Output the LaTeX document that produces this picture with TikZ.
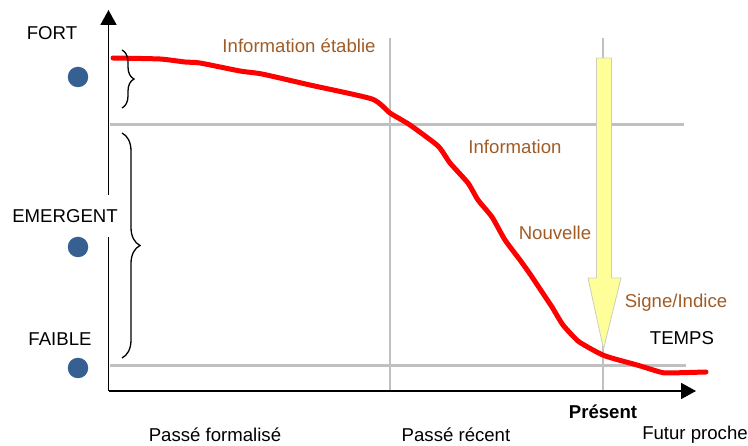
\documentclass[tikz,border=0pt]{standalone}
\usepackage{fontspec}
\setmainfont{Liberation Sans}
\usetikzlibrary{arrows.meta,decorations.pathreplacing}
\definecolor{txtbrown}{RGB}{160,92,38}
\definecolor{dotblue}{RGB}{54,96,146}
\definecolor{gridgray}{RGB}{192,192,192}
\definecolor{arrowyellow}{RGB}{255,255,153}
\definecolor{arrowedge}{RGB}{205,205,190}
\begin{document}
\begin{tikzpicture}[x=1pt,y=-1pt,
  lbl/.style={font=\fontsize{18.6}{22}\selectfont, inner sep=1pt},
  brownlbl/.style={lbl, text=txtbrown},
  gridline/.style={draw=gridgray, line width=2.8pt},
  axisline/.style={draw=black, line width=1.8pt, -{Triangle[length=15pt,width=16pt]}},
  level/.style={circle, fill=dotblue, minimum size=20.5pt, inner sep=0pt},
  bracestyle/.style={draw=black, line width=1.3pt, decorate, decoration={brace, amplitude=#1}},
  curve/.style={draw=red, line width=5pt, line join=round, line cap=round}]
\useasboundingbox (0,0) rectangle (748,446);
% coordinates
\coordinate (O) at (108.5,391);
\coordinate (Ytop) at (108.5,10);
\coordinate (Xend) at (696,391);
\coordinate (h1a) at (110,124.5);
\coordinate (h1b) at (684,124.5);
\coordinate (h2a) at (110,365.5);
\coordinate (h2b) at (686,365.5);
\coordinate (v1a) at (390,38);
\coordinate (v1b) at (390,391);
\coordinate (v2a) at (603,38);
\coordinate (v2b) at (603,391);
% grid
\draw[gridline] (h1a) -- (h1b);
\draw[gridline] (h2a) -- (h2b);
\draw[gridline] (v1a) -- (v1b);
\draw[gridline] (v2a) -- (v2b);
% axes
\draw[axisline] (O) -- (Ytop);
\draw[axisline] (O) -- (Xend);
% yellow arrow
\filldraw[fill=arrowyellow, draw=arrowedge, line width=0.8pt]
  (596.5,58) -- (611.5,58) -- (611.5,278) -- (621,278) -- (603.5,349) -- (588,278) -- (596.5,278) -- cycle;
% red curve
\draw[curve] plot[smooth, tension=0.35] coordinates {
 (113,58) (160,59) (185,62) (200,63) (240,71) (262,74) (310,85) (372,99)
 (390,113) (410,125) (438,146) (450,163) (468,183) (478,200) (492,217)
 (505,240) (520,260) (530,274) (542,292) (552,307) (563,325) (578,341)
 (593,350) (604,355.5) (615,359) (637,365) (660,372) (668,373) (706,372)};
% braces
\draw[bracestyle=12pt] (122,50) -- (122,108);
\draw[bracestyle=18pt] (122,133) -- (122,358);
% level labels and dots
\node[lbl] (fort) at (52,33) {FORT};
\node[lbl, fill=white, inner xsep=0pt, inner ysep=14pt] (emergent) at (65,216) {EMERGENT};
\node[lbl] (faible) at (60,339) {FAIBLE};
\node[level] (dfort) at (78,77) {};
\node[level] (demergent) at (78,247) {};
\node[level] (dfaible) at (78,368) {};
% curve labels
\node[brownlbl] (etablie) at (299,46) {Information établie};
\node[brownlbl] (information) at (515,147) {Information};
\node[brownlbl] (nouvelle) at (555,233) {Nouvelle};
\node[brownlbl] (signe) at (676,303) {Signe/Indice};
\node[lbl] (temps) at (682,338) {TEMPS};
% time labels
\node[lbl, font=\fontsize{18.6}{22}\selectfont\bfseries] (present) at (603,412) {Présent};
\node[lbl] (formalise) at (215,435) {Passé formalisé};
\node[lbl] (recent) at (456,435) {Passé récent};
\node[lbl] (futur) at (695,435) {Futur proche};
\end{tikzpicture}
\end{document}
